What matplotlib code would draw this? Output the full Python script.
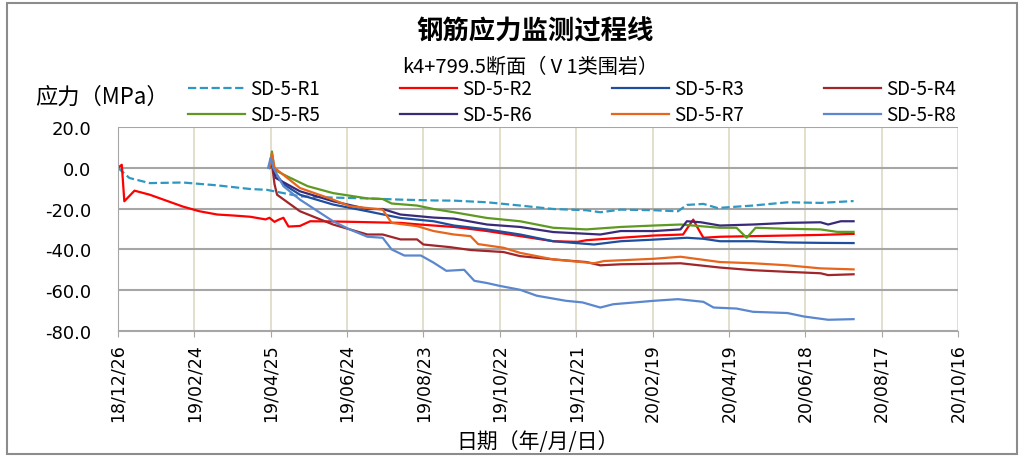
import matplotlib
matplotlib.use("Agg")
import matplotlib.pyplot as plt
import matplotlib.dates as mdates
from matplotlib.patches import Rectangle
import pandas as pd

plt.rcParams['font.family'] = ['Noto Sans CJK SC', 'DejaVu Sans']

# monitoring start date, series are stored as day offsets from it
start = pd.Timestamp("2018-12-26")

r1_days = [0, 9, 25, 51, 78, 104, 117, 143, 169, 196, 222, 248, 264, 290, 316, 342, 368, 379, 395, 421, 440, 447, 460, 471, 499, 526, 552, 578]
r1_vals = [0, -5, -7.5, -7.2, -8.6, -10.4, -10.8, -14, -14.6, -15, -15.6, -16, -16.1, -16.9, -18.5, -20.2, -20.8, -21.8, -20.5, -20.8, -21.3, -18.2, -17.7, -19.7, -18.5, -16.9, -17.2, -16.3]

r2_days = [0, 3, 5, 13, 25, 51, 64, 78, 91, 104, 116, 119, 123, 126, 130, 134, 143, 151, 169, 222, 237, 264, 290, 316, 342, 361, 368, 395, 421, 444, 448, 452, 456, 460, 473, 499, 526, 552, 578]
r2_vals = [0, 1.5, -16.4, -11.2, -13.2, -19, -21.3, -22.9, -23.4, -24, -25.3, -24.5, -26.5, -25.5, -24.5, -28.8, -28.5, -26.2, -26.3, -27, -27.8, -29, -31, -33.5, -36, -36.3, -35.5, -34.3, -33.2, -32.7, -29, -25.4, -30, -34.3, -33.8, -33.5, -33.2, -32.9, -32.4]

r3_days = [119, 121, 123, 130, 143, 169, 196, 222, 248, 264, 290, 316, 342, 374, 395, 421, 447, 460, 473, 499, 526, 552, 578]
r3_vals = [0, 3, -2, -8, -13.2, -18, -21.3, -24.6, -26.2, -28.3, -30.2, -32.7, -36, -37.6, -36, -35.2, -34.3, -34.8, -36, -36, -36.6, -36.8, -36.9]

r4_days = [119, 121, 123, 125, 143, 169, 196, 208, 222, 235, 240, 261, 277, 303, 316, 342, 368, 379, 395, 442, 473, 499, 526, 552, 558, 578]
r4_vals = [0, 2, -8, -13.2, -21.3, -27.8, -32.7, -32.7, -35.1, -35.1, -37.6, -38.9, -40.3, -41.3, -43.3, -44.9, -46.2, -47.8, -47.3, -46.8, -48.9, -50.2, -51, -51.7, -52.6, -52.2]

r5_days = [119, 121, 123, 133, 149, 169, 196, 208, 215, 235, 248, 264, 290, 316, 342, 368, 395, 421, 442, 473, 486, 494, 501, 526, 552, 565, 578]
r5_vals = [0, 8, -1, -4.2, -9, -12.4, -15, -15.3, -17.5, -18.5, -20.2, -21.8, -24.6, -26.2, -29.4, -30.2, -29, -28.3, -27.8, -29.4, -29.4, -34.3, -29.4, -29.9, -30.2, -31.4, -31.4]

r6_days = [119, 121, 124, 143, 169, 196, 208, 222, 248, 264, 290, 316, 342, 379, 395, 421, 442, 447, 458, 473, 499, 526, 552, 558, 568, 578]
r6_vals = [0, 2, -5, -11.5, -16.4, -20.2, -20.2, -22.9, -24.4, -24.9, -27.8, -29, -31.5, -32.7, -31, -31, -30.2, -26.2, -26.7, -28.3, -27.8, -27, -26.7, -27.8, -26.2, -26.2]

r7_days = [119, 121, 123, 143, 169, 182, 208, 215, 235, 248, 264, 277, 283, 303, 316, 342, 374, 382, 421, 442, 473, 499, 526, 552, 578]
r7_vals = [0, 7, 0, -9.9, -15.6, -18.8, -20.5, -27, -28.6, -31, -32.7, -33.5, -37.4, -39.2, -41.7, -44.9, -46.8, -45.7, -44.6, -43.6, -46.2, -46.8, -47.8, -49.3, -49.8]

r8_days = [118, 120, 122, 130, 143, 169, 182, 196, 208, 215, 225, 238, 248, 258, 272, 280, 290, 300, 316, 329, 352, 365, 379, 389, 421, 440, 460, 468, 486, 499, 526, 539, 558, 578]
r8_vals = [0, 5, 0, -9, -15.6, -26.2, -30.2, -33.8, -34.3, -40, -43, -43, -46.5, -50.5, -50, -55.4, -56.5, -57.9, -59.8, -62.7, -65.2, -66, -68.5, -66.9, -65.2, -64.4, -65.7, -68.5, -69, -70.6, -71.2, -72.9, -74.5, -74.2]

names = ["SD-5-R1", "SD-5-R2", "SD-5-R3", "SD-5-R4",
         "SD-5-R5", "SD-5-R6", "SD-5-R7", "SD-5-R8"]
days = [r1_days, r2_days, r3_days, r4_days, r5_days, r6_days, r7_days, r8_days]
vals = [r1_vals, r2_vals, r3_vals, r4_vals, r5_vals, r6_vals, r7_vals, r8_vals]
colors = ["#2E97C2", "#FF0000", "#1F4E9E", "#A0262A",
          "#5E9A22", "#3A2B78", "#E8661C", "#5B87CF"]
styles = ["--", "-", "-", "-", "-", "-", "-", "-"]

fig = plt.figure(figsize=(10.24, 4.6), dpi=100)
ax = fig.add_axes([0.1152, 0.2783, 0.8203, 0.4434])

lines = []
for d, v, c, ls, n in zip(days, vals, colors, styles, names):
    dates = [start + pd.Timedelta(days=x) for x in d]
    ln, = ax.plot(dates, v, ls, color=c, lw=1.6, label=n)
    lines.append(ln)

# axes range and ticks (every 60 days)
ticks = [start + pd.Timedelta(days=60 * i) for i in range(12)]
ax.set_xlim(ticks[0], ticks[-1])
ax.set_ylim(-80, 20)
ax.set_xticks(ticks)
ax.xaxis.set_major_formatter(mdates.DateFormatter('%y/%m/%d'))
ax.set_yticks([20, 0, -20, -40, -60, -80])
ax.set_yticklabels(["20.0", "0.0", "-20.0", "-40.0", "-60.0", "-80.0"],
                   family=['DejaVu Sans'], fontsize=13)
for lab in ax.get_xticklabels():
    lab.set_rotation(90)
    lab.set_family('DejaVu Sans')
    lab.set_fontsize(12.5)

ax.grid(axis='y', color='#A6A6A6', lw=1.5)
ax.grid(axis='x', color='#DDD9C3', lw=1.2)
ax.set_axisbelow(True)
for s in ['top', 'right']:
    ax.spines[s].set_visible(False)
ax.spines['left'].set_color('#A6A6A6')
ax.spines['bottom'].set_color('#A6A6A6')
ax.tick_params(axis='x', length=4, color='#A6A6A6', pad=5)
ax.tick_params(axis='y', length=0, pad=19)

ax.set_xlabel("日期（年/月/日）", fontsize=15, labelpad=6)

# titles and y label
fig.text(0.523, 0.930, "钢筋应力监测过程线", ha='center', va='center',
         fontsize=19, fontweight='bold')
fig.text(0.518, 0.854, "k4+799.5断面（Ⅴ1类围岩）", ha='center', va='center', fontsize=14.5)
fig.text(0.034, 0.789, "应力（MPa）", ha='left', va='center', fontsize=16)

# legend fills rows: R1-R4 on top, R5-R8 below
order = [0, 4, 1, 5, 2, 6, 3, 7]
fig.legend([lines[i] for i in order], [names[i] for i in order],
           loc='upper left', bbox_to_anchor=(0.1836, 0.828), ncol=4,
           frameon=False, fontsize=13.5, handlelength=3.04, columnspacing=4.27,
           handletextpad=0.27, labelspacing=0.28, borderpad=0, borderaxespad=0)

# outer chart border
fig.patches.append(Rectangle((0.007, 0.01), 0.986, 0.982, transform=fig.transFigure,
                             fill=False, edgecolor='#8C8C8C', lw=1.5))

fig.savefig("out.png", dpi=100)
